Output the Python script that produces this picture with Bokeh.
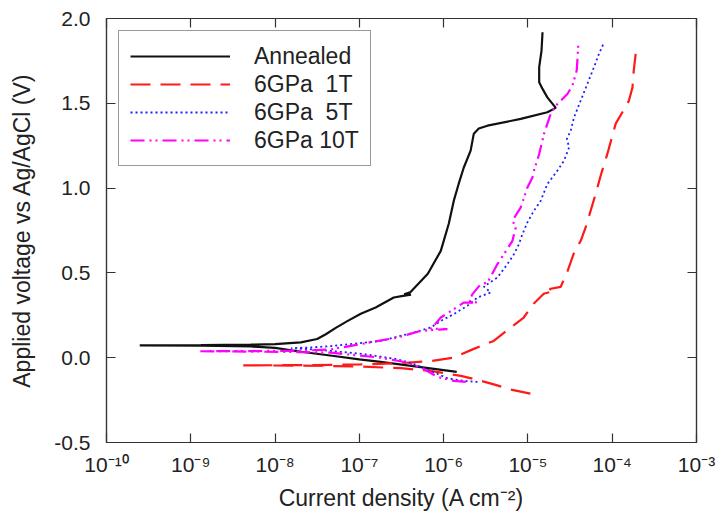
from bokeh.plotting import figure
from bokeh.models import FixedTicker, LogAxis, LinearAxis, CustomJSTickFormatter
from bokeh.embed import file_html
from bokeh.resources import INLINE

# ---------------- data (current density A/cm2, potential V vs Ag/AgCl) -------------
annealed_i = [1.43e-6, 5.35e-7, 1.79e-7, 1.0e-7, 5.0e-8, 2.02e-8, 1.0e-8, 5.15e-9, 1.32e-9, 2.48e-10,
              1.32e-9, 5.15e-9, 1.0e-8, 2.02e-8, 3.16e-8, 4.0e-8, 5.25e-8, 7.28e-8, 1.04e-7, 1.56e-7,
              2.56e-7, 3.3e-7, 4.1e-7, 3.4e-7, 4.0e-7, 6.49e-7, 9.25e-7, 1.15e-6, 1.32e-6, 1.51e-6,
              1.73e-6, 2.09e-6, 2.28e-6, 2.61e-6, 3.31e-6, 8.22e-6, 1.70e-5, 2.14e-5, 1.70e-5, 1.49e-5,
              1.36e-5, 1.36e-5, 1.45e-5, 1.49e-5]
annealed_v = [-0.084, -0.056, -0.025, -0.010, 0.010, 0.035, 0.058, 0.066, 0.071, 0.073,
              0.074, 0.077, 0.080, 0.090, 0.110, 0.138, 0.176, 0.217, 0.259, 0.296,
              0.355, 0.365, 0.371, 0.374, 0.385, 0.495, 0.630, 0.790, 0.926, 1.026,
              1.120, 1.221, 1.321, 1.351, 1.368, 1.408, 1.447, 1.473, 1.535, 1.585,
              1.624, 1.713, 1.811, 1.919]

gpa1t_i = [1.07e-5, 6.5e-6, 3.93e-6, 2.5e-6, 1.6e-6, 7.0e-7, 3.1e-7, 1.0e-7, 2.02e-8, 4.14e-9,
           2.02e-8, 1.0e-7, 3.1e-7, 7.03e-7, 1.32e-6, 2.28e-6, 3.93e-6, 6.25e-6, 8.91e-6, 1.17e-5,
           1.54e-5, 2.1e-5, 1.8e-5, 2.45e-5, 2.96e-5, 3.49e-5, 4.23e-5, 4.84e-5, 5.55e-5, 6.37e-5,
           7.29e-5, 8.77e-5, 1.10e-4, 1.32e-4, 1.58e-4, 1.74e-4, 1.80e-4, 1.90e-4]
gpa1t_v = [-0.212, -0.190, -0.157, -0.130, -0.107, -0.078, -0.062, -0.052, -0.047, -0.045,
           -0.044, -0.040, -0.032, -0.020, 0.001, 0.052, 0.099, 0.178, 0.237, 0.318,
           0.377, 0.395, 0.405, 0.418, 0.512, 0.613, 0.689, 0.768, 0.867, 0.967,
           1.073, 1.203, 1.380, 1.447, 1.516, 1.594, 1.693, 1.793]

gpa5t_i = [2.52e-6, 1.75e-6, 1.11e-6, 7.03e-7, 4.46e-7, 2.83e-7, 1.14e-7, 4.58e-8, 2.5e-8, 1.55e-8,
           2.5e-8, 4.58e-8, 1.79e-7, 4.42e-7, 7.03e-7, 9.25e-7, 1.32e-6, 1.91e-6, 2.52e-6, 3.61e-6,
           3.0e-6, 4.35e-6, 5.71e-6, 6.84e-6, 7.83e-6, 8.61e-6, 9.86e-6, 1.18e-5, 1.42e-5, 1.70e-5,
           2.24e-5, 2.68e-5, 3.08e-5, 2.9e-5, 3.22e-5, 3.52e-5, 4.23e-5, 5.08e-5, 6.08e-5, 6.97e-5,
           7.87e-5]
gpa5t_v = [-0.143, -0.137, -0.121, -0.078, -0.038, -0.009, 0.021, 0.040, 0.050, 0.056,
           0.060, 0.068, 0.099, 0.148, 0.178, 0.217, 0.257, 0.306, 0.355, 0.384,
           0.420, 0.473, 0.552, 0.611, 0.670, 0.729, 0.798, 0.867, 0.926, 1.024,
           1.103, 1.162, 1.240, 1.290, 1.339, 1.417, 1.516, 1.615, 1.713, 1.792,
           1.851]

gpa10t_i = [1.83e-6, 1.33e-6, 8.43e-7, 5.86e-7, 3.72e-7, 1.79e-7, 4.58e-8, 2.02e-8, 5.15e-9, 1.26e-9,
            5.15e-9, 2.02e-8, 4.58e-8, 2.83e-7, 5.35e-7, 8.0e-7, 1.11e-6, 7.0e-7, 7.64e-7, 9.25e-7,
            1.32e-6, 1.73e-6, 2.52e-6, 2.0e-6, 2.20e-6, 2.75e-6, 3.31e-6, 4.35e-6, 5.20e-6, 6.55e-6,
            7.16e-6, 6.55e-6, 8.22e-6, 9.86e-6, 1.13e-5, 1.18e-5, 1.36e-5, 1.55e-5, 1.86e-5, 2.14e-5,
            2.94e-5, 3.37e-5, 3.79e-5, 3.86e-5, 3.97e-5]
gpa10t_v = [-0.143, -0.137, -0.113, -0.068, -0.029, 0.000, 0.030, 0.033, 0.036, 0.038,
            0.039, 0.041, 0.049, 0.119, 0.158, 0.165, 0.168, 0.172, 0.188, 0.237,
            0.286, 0.325, 0.325, 0.335, 0.375, 0.434, 0.443, 0.552, 0.611, 0.689,
            0.768, 0.808, 0.886, 1.004, 1.063, 1.103, 1.201, 1.319, 1.437, 1.486,
            1.555, 1.604, 1.693, 1.752, 1.860]

series_names = ["Annealed", "6GPa  1T", "6GPa  5T", "6GPa 10T"]

x_ticks = [1e-10, 1e-9, 1e-8, 1e-7, 1e-6, 1e-5, 1e-4, 1e-3]
x_tick_labels = ["10\u207b\u00b9\u2070", "10\u207b\u2079", "10\u207b\u2078", "10\u207b\u2077",
                 "10\u207b\u2076", "10\u207b\u2075", "10\u207b\u2074", "10\u207b\u00b3"]
y_ticks = [-0.5, 0.0, 0.5, 1.0, 1.5, 2.0]
y_tick_labels = ["-0.5", "0.0", "0.5", "1.0", "1.5", "2.0"]

x_label = "Current density (A cm\u207b\u00b2)"
y_label = "Applied voltage vs Ag/AgCl (V)"

# ---------------- figure ----------------
FONT = "Liberation Sans"
AX = "#333333"
TXT = "#222222"

p = figure(width=717, height=513, x_axis_type="log",
           x_range=(1e-10, 1e-3), y_range=(-0.5, 2.0),
           output_backend="svg", toolbar_location=None,
           min_border_left=106, min_border_right=21, min_border_top=18, min_border_bottom=71)
p.xgrid.visible = False
p.ygrid.visible = False
p.outline_line_color = AX
p.outline_line_width = 1.2
p.background_fill_color = "white"
p.border_fill_color = "white"

lookup = ("const i = tv.findIndex(t => Math.abs(t - tick) <= 1e-9 * Math.max(Math.abs(t), 1e-12));"
          "return i >= 0 ? tl[i] : '';")
xfmt = CustomJSTickFormatter(args=dict(tv=x_ticks, tl=x_tick_labels), code=lookup)
yfmt = CustomJSTickFormatter(args=dict(tv=y_ticks, tl=y_tick_labels), code=lookup)

def style(ax, labels=True):
    ax.axis_line_color = AX
    ax.axis_line_width = 1.2
    ax.major_tick_line_color = AX
    ax.major_tick_line_width = 1.2
    ax.major_tick_in = 9
    ax.major_tick_out = 0
    ax.minor_tick_in = 0
    ax.minor_tick_out = 0
    ax.major_label_text_font = FONT
    ax.major_label_text_color = TXT
    ax.major_label_text_font_size = "21px" if labels else "0px"
    ax.axis_label_text_font = FONT
    ax.axis_label_text_color = TXT
    ax.axis_label_text_font_size = "23px"
    ax.axis_label_text_font_style = "normal"

xt = FixedTicker(ticks=x_ticks, minor_ticks=[])
yt = FixedTicker(ticks=y_ticks, minor_ticks=[])

xa = p.xaxis[0]
xa.ticker = xt
xa.formatter = xfmt
xa.axis_label = x_label
style(xa)
xa.major_label_standoff = 10
xa.axis_label_standoff = 6

ya = p.yaxis[0]
ya.ticker = yt
ya.formatter = yfmt
ya.axis_label = y_label
style(ya)
ya.major_label_standoff = 16
ya.axis_label_standoff = 16

top = LogAxis(ticker=xt, formatter=CustomJSTickFormatter(code="return '';"))
style(top, labels=False)
top.major_label_standoff = 0
p.add_layout(top, "above")

right = LinearAxis(ticker=yt, formatter=CustomJSTickFormatter(code="return '';"))
style(right, labels=False)
right.major_label_standoff = 0
p.add_layout(right, "right")

p.line(annealed_i, annealed_v, line_color="#111111", line_width=2.2,
       legend_label=series_names[0])
p.line(gpa1t_i, gpa1t_v, line_color="#ff1a1a", line_width=2.2, line_dash="20 10",
       legend_label=series_names[1])
p.line(gpa5t_i, gpa5t_v, line_color="#2020ff", line_width=1.8, line_dash="2 3",
       legend_label=series_names[2])
p.line(gpa10t_i, gpa10t_v, line_color="#ff00ff", line_width=2.2, line_dash="14 5 2 4 2 5",
       legend_label=series_names[3])

lg = p.legend[0]
lg.location = "top_left"
lg.margin = 12
lg.padding = 11
lg.spacing = 0
lg.label_height = 28
lg.glyph_height = 28
lg.glyph_width = 100
lg.label_standoff = 24
lg.label_text_font = FONT
lg.label_text_font_size = "23px"
lg.label_text_color = TXT
lg.border_line_color = AX
lg.border_line_width = 1.2
lg.background_fill_alpha = 1.0

open("out.html", "w").write(file_html(p, INLINE))
